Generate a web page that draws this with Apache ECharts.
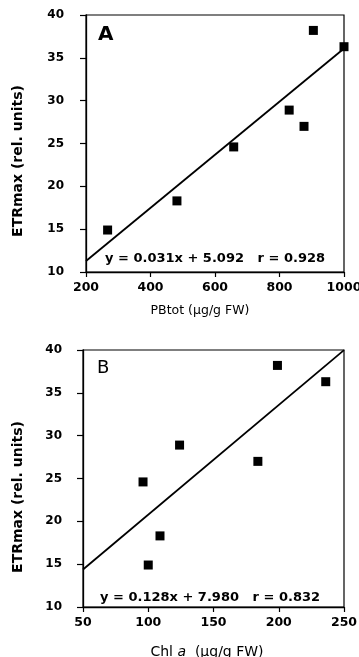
<!DOCTYPE html>
<html>
<head>
<meta charset="utf-8">
<script src="https://cdn.jsdelivr.net/npm/echarts@6/dist/echarts.min.js"></script>
<style>
  html, body { margin: 0; padding: 0; background: #fff; }
  #chart { width: 359px; height: 657px; }
</style>
</head>
<body>
<div id="chart"></div>
<script>
// Phycobiliprotein total (µg/g FW) for each sample
const pbTot = [267, 482, 658, 830, 876, 905, 1000];
// Chlorophyll a (µg/g FW) for the same samples
const chlA = [100, 109, 96, 124, 184, 199, 236];
// Maximum electron transport rate (relative units)
const etrMax = [14.9, 18.3, 24.6, 28.9, 27.0, 38.2, 36.3];

// Linear fits: [slope, intercept, r]
const fitA = [0.031, 5.092, 0.928];
const fitB = [0.128, 7.980, 0.832];

// Axis ranges and tick steps
const xRangeA = [200, 1000, 200];
const xRangeB = [50, 250, 50];
const yRange = [10, 40, 5];

const FONT = 'DejaVu Sans';

function fitLine(fit, range) {
  return [range[0], range[1]].map(x => [x, fit[0] * x + fit[1]]);
}
function fitText(fit) {
  return 'y = ' + fit[0].toFixed(3) + 'x + ' + fit[1].toFixed(3) + '   r = ' + fit[2].toFixed(3);
}

const chart = echarts.init(document.getElementById('chart'), null, { renderer: 'canvas' });

function xAxis(idx, range) {
  return {
    type: 'value', gridIndex: idx,
    min: range[0], max: range[1], interval: range[2],
    splitLine: { show: false },
    axisLine: { show: true, lineStyle: { color: '#000', width: 1.3 } },
    axisTick: { show: true, inside: false, length: 5, lineStyle: { color: '#000', width: 1.2 } },
    axisLabel: {
      color: '#000', fontFamily: FONT, fontWeight: 'bold', fontSize: 12.5, margin: 9,
      formatter: v => String(v)
    }
  };
}
function yAxis(idx, margin) {
  return {
    type: 'value', gridIndex: idx,
    min: yRange[0], max: yRange[1], interval: yRange[2],
    splitLine: { show: false },
    axisLine: { show: true, lineStyle: { color: '#000', width: 1.3 } },
    axisTick: { show: true, inside: false, length: 6, lineStyle: { color: '#000', width: 1.2 } },
    axisLabel: { color: '#000', fontFamily: FONT, fontWeight: 'bold', fontSize: 12, margin: margin }
  };
}

const markerStyle = { color: '#000', opacity: 1 };

const option = {
  backgroundColor: '#fff',
  animation: false,
  grid: [
    { left: 86, top: 15, width: 258, height: 257, show: true, borderColor: '#000', borderWidth: 1.2,
      containLabel: false, outerBoundsMode: 'none' },
    { left: 83, top: 350, width: 261, height: 257, show: true, borderColor: '#000', borderWidth: 1.2,
      containLabel: false, outerBoundsMode: 'none' }
  ],
  xAxis: [xAxis(0, xRangeA), xAxis(1, xRangeB)],
  yAxis: [yAxis(0, 22), yAxis(1, 21)],
  series: [
    {
      type: 'line', xAxisIndex: 0, yAxisIndex: 0,
      data: fitLine(fitA, xRangeA), symbol: 'none',
      lineStyle: { color: '#000', width: 1.8 }
    },
    {
      type: 'scatter', xAxisIndex: 0, yAxisIndex: 0,
      data: pbTot.map((x, i) => [x, etrMax[i]]),
      symbol: 'rect', symbolSize: 9, clip: false,
      itemStyle: markerStyle
    },
    {
      type: 'line', xAxisIndex: 1, yAxisIndex: 1,
      data: fitLine(fitB, xRangeB), symbol: 'none',
      lineStyle: { color: '#000', width: 1.8 }
    },
    {
      type: 'scatter', xAxisIndex: 1, yAxisIndex: 1,
      data: chlA.map((x, i) => [x, etrMax[i]]),
      symbol: 'rect', symbolSize: 9, clip: false,
      itemStyle: markerStyle
    }
  ],
  graphic: [
    // panel letters
    { type: 'text', left: 98, top: 25, style: { text: 'A', font: 'bold 20px "DejaVu Sans"', fill: '#000' } },
    { type: 'text', left: 97, top: 359, style: { text: 'B', font: '18px "DejaVu Sans"', fill: '#000' } },
    // fit equations
    { type: 'text', x: 105, y: 259, style: { text: fitText(fitA), font: 'bold 13px "DejaVu Sans"', fill: '#000', textAlign: 'left', textVerticalAlign: 'middle' } },
    { type: 'text', x: 100, y: 598, style: { text: fitText(fitB), font: 'bold 13px "DejaVu Sans"', fill: '#000', textAlign: 'left', textVerticalAlign: 'middle' } },
    // y-axis titles
    { type: 'text', x: 18, y: 161, rotation: Math.PI / 2, style: { text: 'ETRmax (rel. units)', font: 'bold 14px "DejaVu Sans"', fill: '#000', textAlign: 'center', textVerticalAlign: 'middle' } },
    { type: 'text', x: 18, y: 497, rotation: Math.PI / 2, style: { text: 'ETRmax (rel. units)', font: 'bold 14px "DejaVu Sans"', fill: '#000', textAlign: 'center', textVerticalAlign: 'middle' } },
    // x-axis titles
    { type: 'text', x: 200, y: 311, style: { text: 'PBtot (µg/g FW)', font: '12.5px "DejaVu Sans"', fill: '#000', textAlign: 'center', textVerticalAlign: 'middle' } },
    {
      type: 'text', x: 207, y: 652,
      style: {
        text: '{n|Chl }{i|a}{n|  (µg/g FW)}',
        rich: {
          n: { fontFamily: FONT, fontSize: 14, fill: '#000' },
          i: { fontFamily: FONT, fontSize: 14, fontStyle: 'italic', fill: '#000' }
        },
        textAlign: 'center', textVerticalAlign: 'middle'
      }
    }
  ]
};

chart.setOption(option);
</script>
</body>
</html>
